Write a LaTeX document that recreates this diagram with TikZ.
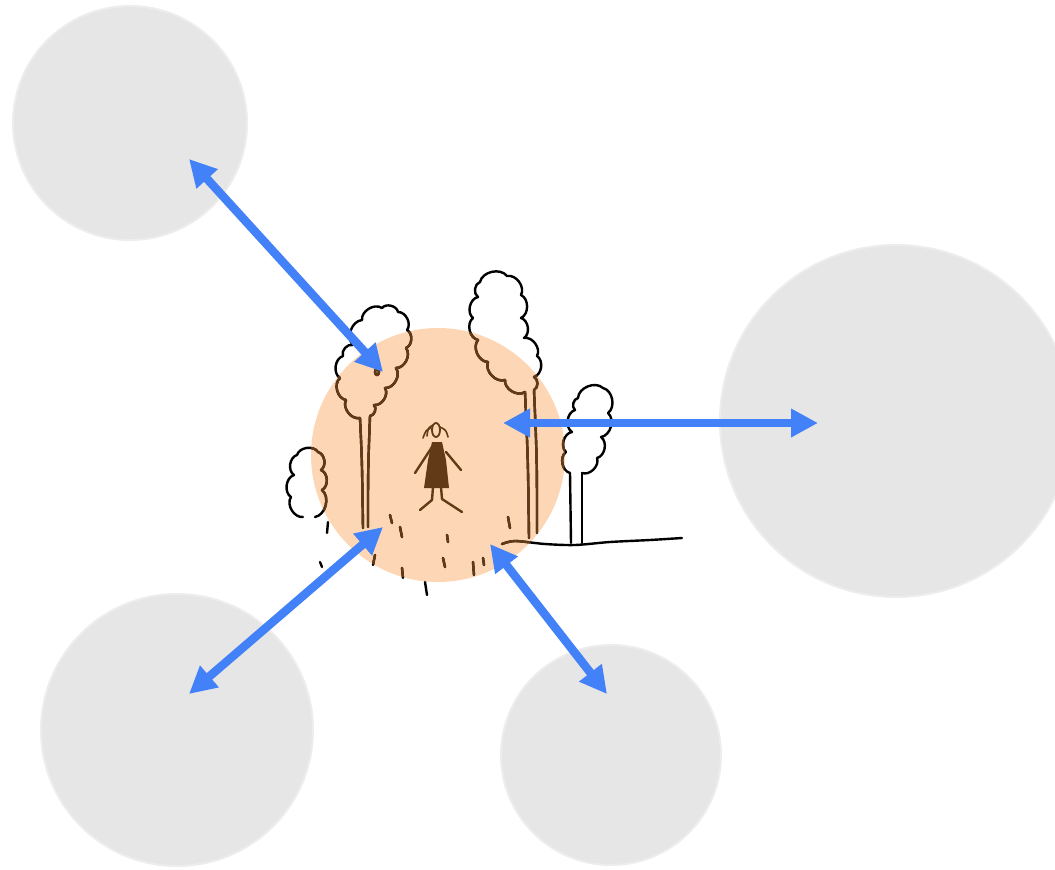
\documentclass[tikz,border=0pt]{standalone}
\usepackage{tikz}
\usetikzlibrary{arrows.meta}
\definecolor{arrowblue}{RGB}{66,129,247}
\definecolor{blobgray}{RGB}{230,230,230}
\definecolor{halo}{RGB}{253,215,181}
\definecolor{inkbrown}{RGB}{98,58,24}
\tikzset{%
  blob/.style={
    circle,
    fill=blobgray,
    draw=blobgray!70,
    line width=2pt,
    inner sep=0pt,
    minimum size=#1
  },
  here/.style={
    circle,
    fill=halo,
    inner sep=0pt,
    minimum size=254pt
  },
  link/.style={arrowblue, line width=8.5pt, <->},
  ink/.style={line width=2.4pt, line cap=round, line join=round},
  crown/.style={ink, every to/.style={bend left=65}},
}

% the trees, trunks, ground and path marks
\newcommand{\forestlines}{%
  % left tall tree
  \draw[crown] (360,418) to (346,400) to (340,378) to (343,356) to (353,345)
    to (362,320) to (382,308) to (398,312) to (407,330) to (406,348)
    to (396,368) to (385,388) to (374,405) to (370,416);
  \draw[ink] (360,418) .. controls (362,460) .. (363,528);
  \draw[ink] (370,416) .. controls (368,470) .. (368,527);
  \draw[ink] (377,372) ellipse (2 and 3);
  % right tall tree
  \draw[crown] (525,392) to (505,380) to (488,362) to (478,340) to (473,318)
    to (478,297) to (480,282) to (507,276) to (521,295) to (521,318)
    to (524,338) to (537,356) to (534,377) to (534,390);
  \draw[ink] (525,392) .. controls (528,460) .. (529,538);
  \draw[ink] (534,390) .. controls (537,460) .. (537,533);
  % small tree on the right
  \draw[crown] (570,473) to (566,452) to (572,432) to (575,410) to (578,398)
    to (603,388) to (608,413) to (601,437) to (597,458) to (582,473);
  \draw[ink] (570,473) -- (571,543);
  \draw[ink] (582,473) -- (582,543);
  % bush on the left
  \draw[crown] (303,517) to (291,497) to (294,475) to (297,455) to (318,452)
    to (321,470) to (322,490) to (315,517);
  % ground
  \draw[ink] plot[smooth] coordinates {(502,544) (515,541) (545,544) (575,545)
    (610,542) (650,540) (682,538)};
  % marks of the path
  \foreach \xa/\ya/\xb/\yb in {390/515/392/523, 400/527/402/537, 447/535/448/542,
      508/517/510/528, 375/555/373/565, 402/568/403/578, 443/558/445/567,
      473/562/474/575, 483/558/484/565, 425/582/427/595, 328/522/327/533,
      320/562/322/567}
    \draw[ink] (\xa,\ya) -- (\xb,\yb);
}

\begin{document}
\begin{tikzpicture}[x=1pt, y=-1pt, >={Triangle[length=27pt,width=27pt]}]
\useasboundingbox (0,0) rectangle (1055,870);

% the places around
\node[blob=234pt] (past) at (130,123) {};
\node[blob=352pt] (far) at (896,421) {};
\node[blob=272pt] (left) at (177,730) {};
\node[blob=220pt] (near) at (611,755) {};

% where one stands
\node[here] (here) at (438,455) {};

\forestlines
\begin{scope}[color=inkbrown]
  \clip (here.center) circle (127);
  \forestlines
\end{scope}

% the figure
\begin{scope}[inkbrown]
  \draw[ink, line width=1.8pt] (436,430) ellipse (4 and 7);
  \draw[ink, line width=1.6pt] (431,428) .. controls (426,430) .. (423,438);
  \draw[ink, line width=1.6pt] (433,425) .. controls (428,428) .. (427,436);
  \draw[ink, line width=1.6pt] (440,427) .. controls (446,430) .. (448,437);
  \fill (432,442) -- (442,442) -- (446,460) -- (449,488) -- (424,488) -- (428,460) -- cycle;
  \draw[ink] (432,447) -- (415,473);
  \draw[ink] (446,452) -- (461,470);
  \draw[ink] (433,487) -- (432,500) -- (420,510);
  \draw[ink] (441,487) -- (442,499) -- (462,512);
\end{scope}

% the links
\coordinate (nw start) at (383,372);
\coordinate (nw end) at (189,159);
\coordinate (e start) at (503,423);
\coordinate (e end) at (818,423);
\coordinate (sw start) at (383,527);
\coordinate (sw end) at (189,694);
\coordinate (se start) at (490,544);
\coordinate (se end) at (607,694);

\draw[link] (nw start) -- (nw end);
\draw[link] (e start) -- (e end);
\draw[link] (sw start) -- (sw end);
\draw[link] (se start) -- (se end);
\end{tikzpicture}
\end{document}
